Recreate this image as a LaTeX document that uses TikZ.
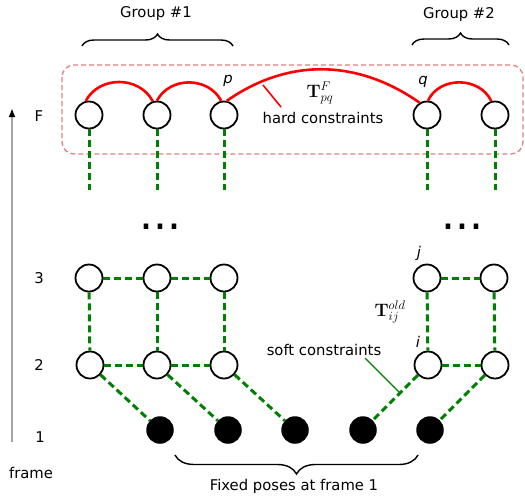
\RequirePackage{fix-cm}
\documentclass[tikz,border=0pt]{standalone}
\usepackage[no-math]{fontspec}
\setmainfont{DejaVu Sans}
\usetikzlibrary{arrows.meta,decorations.pathreplacing}
\definecolor{dgreen}{RGB}{0,128,0}
\definecolor{boxred}{RGB}{228,128,128}
\definecolor{axisgray}{RGB}{165,165,165}
\begin{document}
\begin{tikzpicture}[x=1pt,y=-1pt,
  pose/.style={circle,draw,line width=1.8pt,minimum size=27pt,inner sep=0pt},
  fixed/.style={circle,fill=black,minimum size=27.5pt,inner sep=0pt},
  soft/.style={dgreen,line width=3pt,dash pattern=on 7pt off 4pt},
  hard/.style={red,line width=2.6pt},
  lbl/.style={font=\fontsize{14.8}{17}\selectfont,inner sep=0pt},
  ilbl/.style={font=\fontsize{14.8}{17}\selectfont\itshape,inner sep=0pt},
  mlbl/.style={font=\fontsize{18}{21}\selectfont,inner sep=0pt},
  dots/.style={font=\fontsize{44}{48}\selectfont,inner sep=0pt,anchor=base},
  bracestyle/.style={decorate,line width=1.4pt}]
\useasboundingbox (0,0) rectangle (525,499);

% red dashed frame of the final frame F
\draw[boxred,dash pattern=on 5pt off 3pt,line width=1.3pt,rounded corners=12pt] (62,65) rectangle (523,154);

% pose nodes
\node[pose] (f1) at (89,115) {};
\node[pose] (f2) at (157,115) {};
\node[pose] (f3) at (224,115) {};
\node[pose] (f4) at (427,115) {};
\node[pose] (f5) at (495,115) {};
\node[pose] (t1) at (89,278) {};
\node[pose] (t2) at (157,278) {};
\node[pose] (t3) at (224,278) {};
\node[pose] (t4) at (427,278) {};
\node[pose] (t5) at (494,278) {};
\node[pose] (s1) at (90,365) {};
\node[pose] (s2) at (157,365) {};
\node[pose] (s3) at (224,365) {};
\node[pose] (s4) at (428,365) {};
\node[pose] (s5) at (495,365) {};
\node[fixed] (b1) at (160,430) {};
\node[fixed] (b2) at (228,430) {};
\node[fixed] (b3) at (295,430) {};
\node[fixed] (b4) at (363,430) {};
\node[fixed] (b5) at (430,430) {};

% stubs below frame F
\coordinate (e1) at (89,190);
\coordinate (e2) at (157,190);
\coordinate (e3) at (224,190);
\coordinate (e4) at (427,190);
\coordinate (e5) at (495,190);
\foreach \i in {1,...,5} \draw[soft] (f\i) -- (e\i);

% soft constraints
\draw[soft] (t1) -- (t2);
\draw[soft] (t2) -- (t3);
\draw[soft] (t4) -- (t5);
\foreach \i in {1,...,5} \draw[soft] (t\i) -- (s\i);
\draw[soft] (s1) -- (s2);
\draw[soft] (s2) -- (s3);
\draw[soft] (s4) -- (s5);
\foreach \i in {1,...,5} \draw[soft] (s\i) -- (b\i);

% hard constraints
\draw[hard] (f1.103) to[out=62,in=118,looseness=1.1] (f2.107);
\draw[hard] (f2.90) to[out=62,in=118,looseness=1.1] (f3.101);
\draw[hard] (f3.79) to[out=35,in=145] (f4.121);
\draw[hard] (f4.86) to[out=65,in=115,looseness=1.1] (f5.105);

% dots
\node[dots] (d1) at (160,229) {...};
\node[dots] (d2) at (462,229) {...};

% labels on nodes
\node[ilbl] (lp) at (228,81) {p};
\node[ilbl] (lq) at (423,82) {q};
\node[ilbl] (lj) at (419,253) {j};
\node[ilbl] (li) at (418,342) {i};

% constraint labels
\node[mlbl] (tpq) at (320,93) {$\mathbf{T}^{F}_{pq}$};
\node[lbl] (hc) at (323,118) {hard constraints};
\coordinate (hp1) at (263,85);
\coordinate (hp2) at (281,107);
\draw[red,line width=1.6pt] (hp1) -- (hp2);
\node[mlbl] (tij) at (390,312) {$\mathbf{T}^{old}_{ij}$};
\node[lbl] (sc) at (324,350) {soft constraints};
\coordinate (sp1) at (365,358);
\coordinate (sp2) at (400,393);
\draw[dgreen,line width=1.4pt] (sp1) -- (sp2);

% groups
\draw[bracestyle,decoration={brace,amplitude=12pt}] (82,46) -- (233,46);
\node[lbl] (g1) at (156,14) {Group \#1};
\draw[bracestyle,decoration={brace,amplitude=12pt}] (412,45) -- (509,45);
\node[lbl] (g2) at (459,15) {Group \#2};
\draw[bracestyle,decoration={brace,amplitude=19pt}] (418,455) -- (175,455);
\node[lbl] (fp) at (294,486) {Fixed poses at frame 1};

% frame axis
\coordinate (ax0) at (12,442);
\coordinate (ax1) at (12,108);
\draw[axisgray,line width=2pt,-{Latex[color=black,length=9pt,width=7pt]}] (ax0) -- (ax1);
\node[lbl] (aF) at (39,116) {F};
\node[lbl] (a3) at (39,278) {3};
\node[lbl] (a2) at (39,365) {2};
\node[lbl] (a1) at (40,437) {1};
\node[lbl] (afr) at (31,473) {frame};
\end{tikzpicture}
\end{document}
